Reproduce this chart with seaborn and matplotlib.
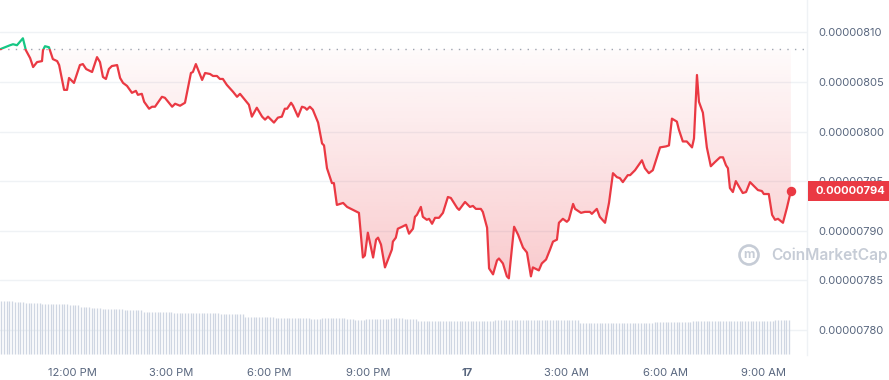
import numpy as np
import pandas as pd
import matplotlib
matplotlib.use("Agg")
import matplotlib.pyplot as plt
import seaborn as sns
from matplotlib.patches import Rectangle, Circle, Polygon

# ---------------- data ----------------
# time in hours since midnight of the 16th (24 h window, 5-min candles)
HOURS = [9.82, 9.97, 10.12, 10.21, 10.33, 10.51, 10.60, 10.73, 10.82, 10.94,
         11.09, 11.12, 11.18, 11.30, 11.42, 11.55, 11.61, 11.76, 11.85, 11.91,
         12.06, 12.24, 12.33, 12.43, 12.61, 12.76, 12.85, 12.94, 13.03, 13.12,
         13.21, 13.37, 13.46, 13.55, 13.67, 13.82, 13.94, 14.00, 14.12, 14.19,
         14.34, 14.43, 14.52, 14.73, 14.82, 15.04, 15.13, 15.28, 15.43, 15.61,
         15.67, 15.76, 15.95, 16.04, 16.19, 16.28, 16.40, 16.49, 16.58, 16.70,
         16.89, 17.01, 17.10, 17.37, 17.46, 17.61, 17.77, 17.86, 17.95, 18.13,
         18.25, 18.37, 18.46, 18.53, 18.65, 18.71, 18.86, 18.98, 19.07, 19.13,
         19.22, 19.31, 19.47, 19.59, 19.65, 19.74, 19.80, 19.89, 19.95, 20.04,
         20.23, 20.35, 20.53, 20.71, 20.83, 20.89, 20.98, 21.14, 21.23, 21.29,
         21.38, 21.50, 21.71, 21.74, 21.83, 21.89, 22.02, 22.14, 22.23, 22.35,
         22.41, 22.47, 22.59, 22.65, 22.77, 22.84, 22.93, 23.02, 23.14, 23.26,
         23.41, 23.50, 23.69, 23.75, 23.93, 24.08, 24.17, 24.26, 24.41, 24.47,
         24.60, 24.66, 24.78, 24.90, 24.96, 25.08, 25.20, 25.26, 25.42, 25.54,
         25.69, 25.81, 25.93, 25.99, 26.17, 26.26, 26.39, 26.51, 26.60, 26.72,
         26.78, 26.90, 27.02, 27.08, 27.21, 27.27, 27.36, 27.45, 27.57, 27.72,
         27.78, 27.93, 28.02, 28.18, 28.30, 28.42, 28.54, 28.63, 28.72, 28.87,
         28.94, 29.09, 29.30, 29.39, 29.51, 29.63, 29.85, 30.03, 30.12, 30.21,
         30.36, 30.42, 30.54, 30.66, 30.82, 30.88, 30.97, 31.03, 31.15, 31.27,
         31.39, 31.51, 31.67, 31.76, 31.85, 31.91, 31.97, 32.06, 32.15, 32.27,
         32.36, 32.46, 32.58, 32.67, 32.82, 32.94, 33.00, 33.15, 33.25, 33.34,
         33.43, 33.58, 33.70, 33.82]

# price in units of 1e-8
PRICE = [808.3, 808.5, 808.7, 808.8, 808.7, 809.4, 808.2, 807.4, 806.5, 807.0,
         807.1, 808.2, 808.6, 808.5, 807.3, 807.1, 806.7, 804.2, 804.2, 805.4,
         804.9, 806.7, 806.8, 806.3, 806.0, 807.5, 807.0, 805.5, 805.3, 806.3,
         806.6, 806.7, 805.4, 804.9, 804.6, 803.9, 804.1, 803.7, 803.8, 803.0,
         802.3, 802.5, 802.5, 803.5, 803.4, 802.5, 802.8, 802.6, 802.9, 805.9,
         806.0, 806.8, 805.2, 805.9, 805.8, 805.6, 805.6, 805.3, 805.3, 804.7,
         804.0, 803.5, 803.8, 802.7, 801.5, 802.4, 801.5, 801.2, 801.5, 800.9,
         801.4, 801.5, 802.3, 802.3, 802.9, 802.6, 801.5, 802.5, 802.4, 802.2,
         802.5, 802.2, 800.9, 798.8, 798.6, 796.3, 795.7, 794.8, 794.8, 792.6,
         792.8, 792.4, 792.1, 791.8, 787.3, 787.5, 789.8, 787.3, 789.1, 789.3,
         788.6, 786.3, 788.1, 788.9, 789.3, 790.2, 790.4, 790.6, 789.7, 790.2,
         791.4, 791.6, 792.4, 791.4, 791.1, 791.2, 790.7, 791.3, 791.3, 791.8,
         793.4, 793.3, 792.3, 792.1, 792.9, 792.4, 792.5, 792.2, 792.2, 791.9,
         790.3, 786.2, 785.6, 787.0, 787.2, 786.7, 785.4, 785.2, 790.4, 789.6,
         788.3, 787.8, 785.4, 786.3, 786.0, 786.7, 787.1, 788.1, 788.9, 789.1,
         790.8, 791.2, 790.9, 791.1, 792.7, 792.2, 792.0, 791.8, 791.9, 791.9,
         791.7, 792.2, 791.4, 790.8, 792.8, 795.8, 795.4, 795.3, 794.9, 795.6,
         795.6, 796.1, 797.1, 796.3, 795.8, 796.1, 798.4, 798.5, 798.6, 801.3,
         801.0, 800.2, 799.0, 799.0, 798.4, 799.3, 805.7, 803.0, 801.9, 798.4,
         796.5, 796.9, 797.4, 797.4, 796.6, 796.3, 794.3, 793.9, 795.0, 794.3,
         793.8, 793.9, 794.9, 794.6, 794.1, 794.0, 793.7, 793.7, 791.6, 791.1,
         791.2, 790.8, 792.3, 794.0]

OPEN_PRICE = 808.3  # dotted reference line (price 24h ago)

# relative volume per 5-min candle (288 candles), read as runs of equal height
VOLUME = ([53.3] * 5 + [52.3] * 4 + [51.3] * 6 + [50.3] * 10 + [49.0] * 4 +
          [47.3] * 4 + [46.3] * 4 + [45.0] * 8 + [44.3] * 7 + [42.3] * 11 +
          [41.3] * 17 + [40.3] * 9 + [37.3] * 11 + [36.3] * 13 + [35.3] * 4 +
          [36.3] * 9 + [35.0] * 3 + [34.3] * 4 + [35.3] * 9 + [36.3] * 5 +
          [35.0] * 5 + [33.3] * 28 + [34.3] * 3 + [34.0] * 28 + [30.7] * 27 +
          [31.7] * 14 + [32.7] * 14 + [33.3] * 16 + [34.3] * 6)

Y_TICKS = [780, 785, 790, 795, 800, 805, 810]
X_TICKS = [12, 15, 18, 21, 24, 27, 30, 33]
X_LABELS = ["12:00 PM", "3:00 PM", "6:00 PM", "9:00 PM", "17", "3:00 AM", "6:00 AM", "9:00 AM"]

RED = "#ea3943"
GREEN = "#16c784"
TXT = "#58667e"

# ---------------- figure ----------------
sns.set_theme(style="white")
plt.rcParams["font.family"] = ["Inter", "DejaVu Sans"]

W, H = 889, 380
fig = plt.figure(figsize=(W / 100, H / 100), dpi=100)
fig.patch.set_facecolor("white")
ax = fig.add_axes([0, 25 / H, 807 / W, 355 / H])
ax.set_facecolor("white")

XMIN, XMAX = 9.815, 34.31
YMIN, YMAX = 777.47, 813.26

# volume bars on a twin axis (created first so the price axis keeps its right-hand labels)
axv = ax.twinx()
bar_hours = [HOURS[0] + 0.03 + i * (24 / 288) for i in range(len(VOLUME))]
axv.vlines(bar_hours, 0, VOLUME, color="#cfd6e2", lw=0.95)
axv.set_ylim(-1, 354)
axv.set_yticks([])
for s in axv.spines.values():
    s.set_visible(False)

df = pd.DataFrame({"hour": HOURS, "price": PRICE})

# gradient fill between open-price line and the price line (below only)
poly_x = [HOURS[0]] + HOURS + [HOURS[-1]]
poly_y = [OPEN_PRICE] + list(np.minimum(PRICE, OPEN_PRICE)) + [OPEN_PRICE]
poly = Polygon(np.column_stack([poly_x, poly_y]), closed=True,
               facecolor="none", edgecolor="none", transform=ax.transData)
ax.add_patch(poly)
n = 256
t = np.linspace(0, 1, n).reshape(-1, 1)           # 0 bottom -> 1 top
alpha = 0.27 - 0.25 * t
img = np.zeros((n, 1, 4))
img[..., 0] = 234 / 255
img[..., 1] = 57 / 255
img[..., 2] = 67 / 255
img[..., 3] = alpha
gmin = min(PRICE) - 0.5
im = ax.imshow(img, extent=[HOURS[0], HOURS[-1], gmin, OPEN_PRICE],
               origin="lower", aspect="auto", zorder=1, interpolation="bilinear")
im.set_clip_path(poly)

# open price dotted line
ax.axhline(OPEN_PRICE, color="#9ea5b0", lw=1.0, ls=(0, (1, 4.5)), zorder=2)

# price line: red below open price, green above
for col, rect in [
    (RED, Rectangle((XMIN - 1, YMIN - 10), 40, OPEN_PRICE - YMIN + 10, transform=ax.transData)),
    (GREEN, Rectangle((XMIN - 1, OPEN_PRICE), 40, 30, transform=ax.transData)),
]:
    sns.lineplot(data=df, x="hour", y="price", ax=ax, color=col, lw=1.6,
                 estimator=None, sort=False, zorder=3)
    ln = ax.lines[-1]
    ln.set_clip_path(rect)
    ln.set_solid_joinstyle("round")

ax.plot([HOURS[-1]], [PRICE[-1]], "o", ms=5.8, color=RED, zorder=4)

ax.set_xlim(XMIN, XMAX)
ax.set_ylim(YMIN, YMAX)
axv.set_xlim(XMIN, XMAX)

# axes styling
ax.set_yticks(Y_TICKS)
ax.set_yticklabels([f"{v * 1e-8:.8f}" for v in Y_TICKS])
ax.yaxis.tick_right()
ax.yaxis.set_label_position("right")
ax.tick_params(axis="y", which="both", left=False, right=False, labelleft=False,
               labelright=True, length=0, pad=8, labelsize=8, labelcolor=TXT)
ax.yaxis.grid(True, color="#eff2f5", lw=1)
ax.xaxis.grid(False)
ax.set_xticks(X_TICKS)
ax.set_xticklabels(X_LABELS)
ax.tick_params(axis="x", length=3, width=0.8, color="#e6e9ee", pad=6,
               labelsize=8, labelcolor=TXT)
for lab in ax.get_xticklabels():
    if lab.get_text() == "17":
        lab.set_fontweight("bold")
ax.set_xlabel("")
ax.set_ylabel("")
for s in ["top", "left", "bottom"]:
    ax.spines[s].set_visible(False)
ax.spines["right"].set_color("#eff2f5")
ax.spines["right"].set_linewidth(1)

# current price tag at right
fig.canvas.draw()
_, ypix = ax.transData.transform((HOURS[-1], PRICE[-1]))
tag = Rectangle((808 / W, (ypix - 10) / H), 81 / W, 20 / H, transform=fig.transFigure,
                facecolor=RED, edgecolor="none", zorder=10)
fig.add_artist(tag)
fig.text(816 / W, ypix / H, f"{PRICE[-1] * 1e-8:.8f}", color="white", fontsize=8,
         fontweight="bold", va="center", ha="left", zorder=11)

# watermark
wm = "#c6ccd6"
fig.add_artist(Circle((7.49, (H - 255) / 100), 0.095, transform=fig.dpi_scale_trans,
                      fill=False, edgecolor=wm, lw=1.9, zorder=5))
fig.text(749 / W, (H - 255.5) / H, "m", color=wm, fontsize=9, fontweight="bold",
         ha="center", va="center", zorder=5)
fig.text(771 / W, (H - 255) / H, "CoinMarketCap", color=wm, fontsize=11.2,
         fontweight="semibold", ha="left", va="center", zorder=5)

fig.savefig("out.png", dpi=100)
